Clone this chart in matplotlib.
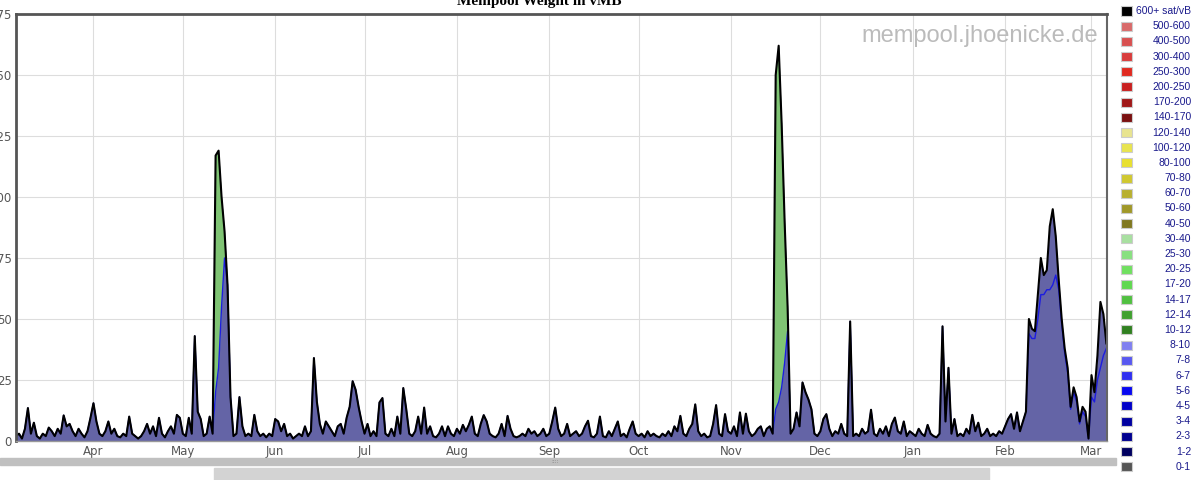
import numpy as np
import matplotlib.pyplot as plt
import matplotlib.dates as mdates
from matplotlib.patches import Rectangle

# daily mempool weight (vMB), starting 2023-03-06
start = np.datetime64('2023-03-06')
total = [
    2, 3, 1, 5, 13.5, 3, 7.5, 2, 1, 3,
    2, 5.5, 4, 2, 5, 3, 10.5, 6, 7, 4,
    2, 5, 3, 1.5, 4, 9.5, 15.5, 8, 3, 2,
    4, 8, 3, 5, 2, 1.5, 3, 2, 10, 3,
    2, 1, 2, 4, 7, 3, 6, 2, 9.5, 3,
    1.5, 4, 6, 3, 10.7, 9.5, 3, 2, 9.5, 3,
    43, 12, 9, 2, 3, 10, 3, 117, 119, 100,
    86, 64, 18, 2, 3, 18, 6, 2, 3, 2,
    10.7, 4, 2, 3, 1.5, 3, 2, 9, 8, 4,
    7, 2, 3, 1, 2, 3, 2, 6, 2, 4,
    34, 16, 7, 3, 8, 6, 4, 2, 6, 7,
    3, 9.6, 14, 24.5, 21, 14, 8, 3, 7, 2,
    4, 2, 15.8, 17.6, 3, 2, 5, 2, 10, 3,
    21.7, 13, 3, 2, 4, 10, 3, 13.7, 3, 6,
    2, 1.5, 3, 6, 2, 6, 3, 2, 5, 3,
    6.6, 4, 6.6, 10, 3, 2, 7, 10.6, 8, 3,
    2, 1.5, 3, 7, 2, 10.3, 5, 2, 1.5, 2,
    3, 2, 5, 3, 4, 2, 3, 5, 2, 3,
    8, 13.7, 5, 2, 3, 7, 2, 3, 4, 2,
    3, 6, 8.3, 2, 1.5, 3, 10, 2, 1.5, 4,
    2, 5, 8, 2, 3, 1.5, 5, 8, 3, 2,
    3, 1.5, 4, 2, 3, 2, 1.5, 3, 2, 4,
    2, 6, 4, 10.3, 3, 2, 5, 7, 15, 4,
    2, 3, 1.5, 2, 7, 14.7, 3, 2, 11, 4,
    3, 6, 2, 11.7, 3, 11.2, 4, 2, 3, 5,
    6, 2, 5, 6, 3, 150, 162, 130, 90, 55,
    3, 5, 11.7, 6, 24, 20, 17, 13, 3, 2,
    4, 9, 11, 5, 2, 4, 3, 7, 3, 2,
    49, 2, 3, 2, 5, 3, 4, 12.8, 3, 2,
    5, 3, 6, 2, 7, 9.6, 4, 3, 8, 2,
    4, 3, 2, 5, 3, 2, 6.6, 3, 2, 1.5,
    3, 47, 8, 30, 3, 9, 2, 3, 2, 5,
    3, 10.7, 4, 7.5, 2, 3, 5, 2, 3, 2,
    4, 3, 6, 9, 11, 5, 11.7, 4, 8, 12,
    50, 46, 45, 60, 75, 68, 70, 88, 95, 84,
    66, 50, 38, 30, 14, 22, 18, 8, 14, 12,
    1, 27, 20, 35, 57, 52, 40,
]

# 10-40 sat/vB share during the two big spikes
green_days = [67, 68, 69, 70, 71, 255, 256, 257, 258, 259]
green_vals = [97, 89, 45, 11, 0, 137, 146, 108, 58, 10]

# part above the low-fee blue line in Feb/Mar
high_days = list(range(340, 367))
high_vals = [6, 4, 3, 10, 15, 8, 8, 26, 31, 16,
             4, 2, 2, 2, 1, 2, 2, 1, 2, 2,
             0, 9, 4, 10, 27, 17, 2]

legend_labels = ['600+ sat/vB', '500-600', '400-500', '300-400', '250-300', '200-250',
                 '170-200', '140-170', '120-140', '100-120', '80-100', '70-80', '60-70',
                 '50-60', '40-50', '30-40', '25-30', '20-25', '17-20', '14-17', '12-14',
                 '10-12', '8-10', '7-8', '6-7', '5-6', '4-5', '3-4', '2-3', '1-2', '0-1']
legend_colors = ['#000000', '#d86a6a', '#d85050', '#d83c3c', '#e02a20', '#c82020',
                 '#a01818', '#7a1010', '#e8e490', '#e8e450', '#e8e030', '#d0c830', '#b8b030',
                 '#a09828', '#807820', '#a8e0a0', '#88e080', '#70e060', '#60d850', '#50c040',
                 '#40a030', '#308020', '#8080f0', '#5858f0', '#3030f0', '#0808f0', '#0000c8',
                 '#0000a0', '#000090', '#000060', '#555555']

W, H = 1200, 480
days = start + np.arange(len(total))
tot = np.array(total, dtype=float)
green = np.zeros_like(tot)
green[green_days] = green_vals
high = np.zeros_like(tot)
high[high_days] = high_vals
blue = tot - green - high

fig = plt.figure(figsize=(12, 4.8), dpi=100)
ax = fig.add_axes([16 / W, 1 - 441 / H, 1091 / W, 427 / H])

ax.fill_between(days, 0, tot, color='#6464a6', lw=0)
ax.fill_between(days, blue, blue + green, color='#80c474', lw=0)
ax.plot(days, blue, color='#1c1ce0', lw=1.0)
ax.plot(days, tot, color='black', lw=1.5)

ax.set_ylim(0, 175)
ax.set_yticks(np.arange(0, 176, 25))
ax.set_xlim(start, start + np.timedelta64(366 * 24 + 5, 'h'))
ax.xaxis.set_major_locator(mdates.MonthLocator())
ax.xaxis.set_major_formatter(mdates.DateFormatter('%b'))
ax.grid(color='#dddddd', lw=0.8)
ax.set_axisbelow(True)
ax.tick_params(length=0, labelsize=8.5, colors='#555555', pad=3)
for side in ['top', 'left']:
    ax.spines[side].set_color('#555555')
    ax.spines[side].set_linewidth(2)
ax.spines['right'].set_color('#666666')
ax.spines['right'].set_linewidth(1.5)
ax.spines['bottom'].set_color('#999999')
ax.spines['bottom'].set_linewidth(1)

fig.text(539 / W, 1 - 4.5 / H, 'Mempool Weight in vMB', ha='center', va='baseline',
         family='Liberation Serif', weight='bold', fontsize=11)
fig.text(1098 / W, 1 - 36 / H, 'mempool.jhoenicke.de', ha='right', va='center',
         color='#bbbbbb', fontsize=17, family='Liberation Sans')

# legend column on the right
for i, (lab, col) in enumerate(zip(legend_labels, legend_colors)):
    yc = 11 + i * 15.19
    fig.patches.append(Rectangle((1121 / W, 1 - (yc + 4.5) / H), 11 / W, 9 / H,
                                 transform=fig.transFigure, facecolor=col,
                                 edgecolor='#cccccc', lw=0.8))
    fig.text(1191 / W, 1 - yc / H, lab, ha='right', va='center', color='#1a1a8c',
             fontsize=7.5, family='Liberation Sans')

# scrollbars under the chart
fig.patches.append(Rectangle((0, 1 - 465 / H), 1116 / W, 6.7 / H,
                             transform=fig.transFigure, color='#c0c0c0'))
fig.text(555 / W, 1 - 461.5 / H, '::::', ha='center', va='center', fontsize=4, color='#777777')
fig.patches.append(Rectangle((214 / W, 0), (989 - 214) / W, 12 / H,
                             transform=fig.transFigure, color='#d3d3d3'))

fig.savefig('out.png', dpi=100)
